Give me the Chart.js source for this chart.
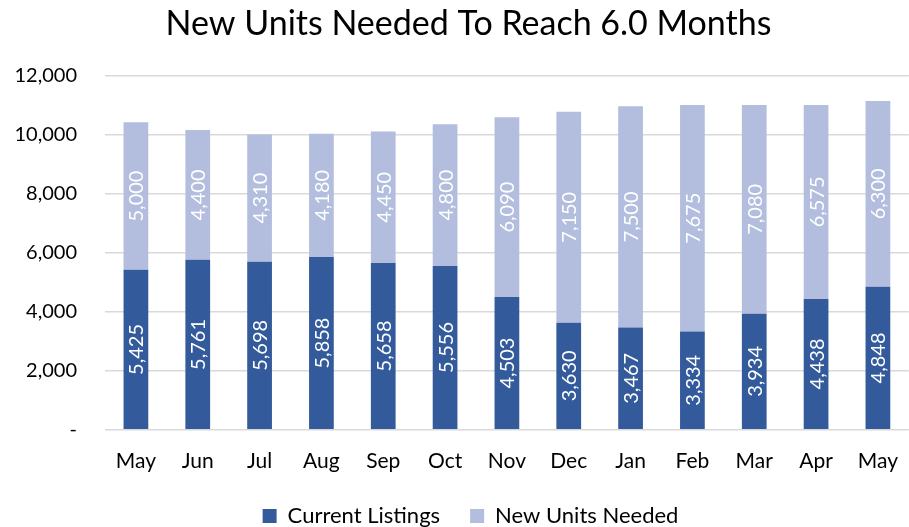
<!DOCTYPE html>
<html><head><meta charset="utf-8">
<script src="https://cdn.jsdelivr.net/npm/chart.js@4"></script>
<style>
html,body{margin:0;padding:0;background:#fff;overflow:hidden;width:909px;height:527px;}
#wrap{position:absolute;left:0;top:0;width:917px;height:537px;}
</style></head>
<body>
<div id="wrap"><canvas id="c"></canvas></div>
<script>
const categories = ["May","Jun","Jul","Aug","Sep","Oct","Nov","Dec","Jan","Feb","Mar","Apr","May"];
const currentListings = [5425,5761,5698,5858,5658,5556,4503,3630,3467,3334,3934,4438,4848];
const newUnitsNeeded = [5000,4400,4310,4180,4450,4800,6090,7150,7500,7675,7080,6575,6300];
const yTicks = [0,2000,4000,6000,8000,10000,12000];
const FONT = "Lato";
const fmt = v => v === 0 ? "-" : v.toLocaleString("en-US");

const labelPlugin = {
  id: "barLabels",
  afterLayout(chart) {
    if (chart.titleBlock) { chart.titleBlock.left += 10; chart.titleBlock.right += 10; }
    if (chart.legend) { chart.legend.left += 12; chart.legend.right += 12; }
  },
  afterDatasetsDraw(chart) {
    const ctx = chart.ctx;
    ctx.save();
    ctx.fillStyle = "#ffffff";
    ctx.font = "20px " + FONT;
    ctx.textAlign = "center";
    ctx.textBaseline = "middle";
    chart.data.datasets.forEach((ds, di) => {
      const meta = chart.getDatasetMeta(di);
      meta.data.forEach((el, i) => {
        const p = el.getProps(["x","y","base"], true);
        const cy = (p.y + p.base) / 2;
        ctx.save();
        ctx.translate(p.x, cy);
        ctx.rotate(-Math.PI / 2);
        ctx.fillText(fmt(ds.data[i]), 0, 1);
        ctx.restore();
      });
    });
    ctx.restore();
  }
};

new Chart(document.getElementById("c"), {
  type: "bar",
  data: {
    labels: categories,
    datasets: [
      {label: "Current Listings", data: currentListings, backgroundColor: "#335A9B", barPercentage: 0.8, categoryPercentage: 0.5},
      {label: "New Units Needed", data: newUnitsNeeded, backgroundColor: "#B3BEDF", barPercentage: 0.8, categoryPercentage: 0.5}
    ]
  },
  options: {
    responsive: true,
    maintainAspectRatio: false,
    animation: false,
    layout: {padding: {left: 0, right: 0, top: 0, bottom: 0}},
    plugins: {
      title: {display: true, text: "New Units Needed To Reach 6.0 Months", color: "#000", font: {family: FONT, size: 34, weight: "normal"}, padding: {top: 4, bottom: 31}},
      legend: {position: "bottom", labels: {color: "#000", font: {family: FONT, size: 22}, boxWidth: 14, boxHeight: 14, padding: 30, useBorderRadius: false}},
      tooltip: {enabled: false}
    },
    scales: {
      x: {stacked: true, grid: {display: false, drawTicks: false}, border: {display: false},
          afterFit: s => { s.height = s.height - 18; },
          ticks: {color: "#000", font: {family: FONT, size: 21}, padding: 19}},
      y: {stacked: true, min: 0, max: 12000,
          afterBuildTicks: s => { s.ticks = yTicks.map(v => ({value: v})); },
          afterFit: s => { s.width = 105; },
          grid: {color: "#d9d9d9", lineWidth: 1.5, drawTicks: false}, border: {display: false},
          ticks: {color: "#000", font: {family: FONT, size: 20}, padding: 28, callback: v => fmt(v)}}
    }
  },
  plugins: [labelPlugin]
});
</script>
</body></html>
